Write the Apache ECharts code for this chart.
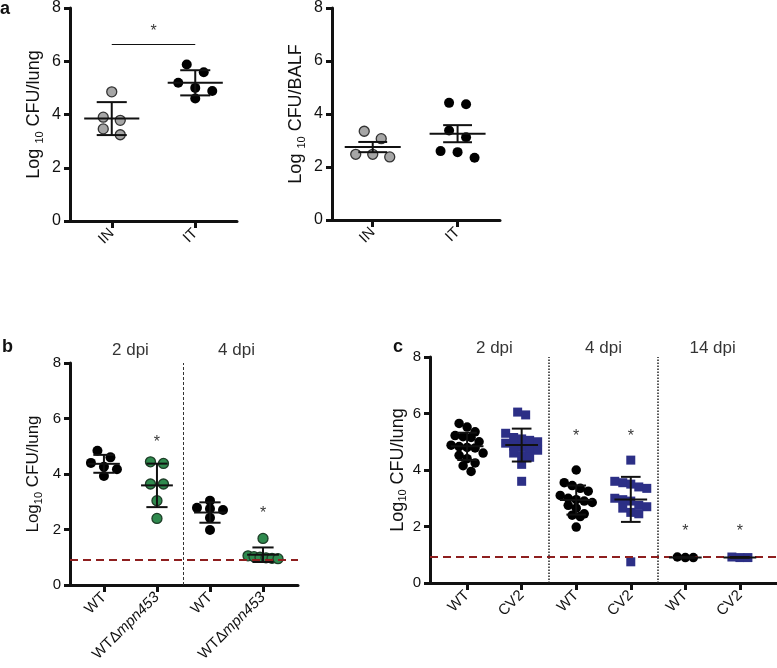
<!DOCTYPE html>
<html><head><meta charset="utf-8">
<script src="https://cdn.jsdelivr.net/npm/echarts@6/dist/echarts.min.js"></script>
<style>html,body{margin:0;padding:0;background:#fff}#c{width:777px;height:668px}</style>
</head><body><div id="c"></div>
<script>
// ---------- data ----------
const aCats = ['IN', 'IT'];
const aLungIN = [4.85, 3.90, 3.78, 3.46, 3.24];
const aLungIT = [5.88, 5.59, 5.19, 5.00, 4.88, 4.60];
const aLungStar = [[0.5, 7.1]];
const aLungBracket = [0, 1, 6.65];
const aBalfIN = [3.35, 3.07, 2.48, 2.48, 2.38];
const aBalfIT = [4.42, 4.37, 3.38, 3.12, 2.60, 2.56, 2.35];

const bCats = ['WT', 'WTΔmpn453', 'WT', 'WTΔmpn453'];
const bHeaders = ['2 dpi', '4 dpi'];
const bWT2 = [4.84, 4.60, 4.40, 4.26, 4.17, 3.93];
const bMut2 = [4.44, 4.38, 3.64, 3.64, 3.04, 2.40];
const bWT4 = [3.04, 2.78, 2.75, 2.70, 2.42, 1.98];
const bMut4 = [1.68, 1.05, 1.02, 1.00, 0.98, 0.96, 0.95];
const bStars = [[1, 5.13], [3, 2.58]];

const cCats = ['WT', 'CV2', 'WT', 'CV2', 'WT', 'CV2'];
const cHeaders = ['2 dpi', '4 dpi', '14 dpi'];
const cWT2 = [5.65, 5.52, 5.35, 5.22, 5.18, 5.15, 5.00, 4.88, 4.83, 4.80, 4.78, 4.60, 4.52, 4.40, 4.25, 4.15, 3.95];
const cCV2_2 = [6.05, 5.95, 5.30, 5.15, 5.10, 5.05, 5.00, 4.95, 4.85, 4.80, 4.75, 4.70, 4.60, 4.50, 4.45, 4.20, 3.60];
const cWT4 = [4.00, 3.55, 3.45, 3.35, 3.25, 3.10, 3.00, 2.95, 2.90, 2.85, 2.75, 2.65, 2.45, 2.40, 2.35, 1.98];
const cCV2_4 = [4.35, 3.60, 3.55, 3.50, 3.40, 3.35, 3.00, 2.95, 2.90, 2.75, 2.70, 2.65, 2.50, 2.45, 0.75];
const cWT14 = [0.92, 0.90, 0.90];
const cCV2_14 = [0.92, 0.90, 0.90];
const cStars = [[2, 5.18], [3, 5.18], [4, 1.83], [5, 1.83]];

const limitOfDetection = 0.92;
const yMin = 0, yMax = 8, yStep = 2;

// ---------- layout / style ----------
const FONT = '"Liberation Sans", Arial, Helvetica, sans-serif';
const INK = '#111';
const GRAY = '#a6a6a6', BLACK = '#000', GREEN = '#2f8a4e', BLUE = '#2c2f86', RED = '#8e1f1f';

const panels = [
  { grid: {left: 70, top: 5, width: 167, height: 216}, xr: [-0.5, 1.5], cats: aCats, yFont: 16, xFont: 15,
    name: '{n|Log }{s|10}{n| CFU/lung}', nameFont: 18, nameGap: 25, dPx: 9, sPx: 17, maxW: 36, mw: 0.33, cw: 0.18, sem: false },
  { grid: {left: 332, top: 5, width: 168, height: 215}, xr: [-0.48, 1.5], cats: aCats, yFont: 16, xFont: 15,
    name: '{n|Log }{s|10}{n| CFU/BALF}', nameFont: 18, nameGap: 25, dPx: 9, sPx: 17, maxW: 36, mw: 0.33, cw: 0.17, sem: true },
  { grid: {left: 70, top: 363, width: 228, height: 222}, xr: [-0.64, 3.66], cats: bCats, yFont: 15, xFont: 15,
    name: '{n|Log}{s|10}{n| CFU/lung}', nameFont: 17, nameGap: 26, dPx: 7, sPx: 13, maxW: 30, mw: 0.3, cw: 0.2, sem: false },
  { grid: {left: 430, top: 357, width: 347, height: 226}, xr: [-0.68, 5.68], cats: cCats, yFont: 15, xFont: 15,
    name: '{n|Log}{s|10}{n| CFU/lung}', nameFont: 18, nameGap: 21, dPx: 9, sPx: 8, maxW: 34, mw: 0.3, cw: 0.18, sem: false }
];

const groups = [
  {p: 0, x: 0, v: aLungIN, color: GRAY, border: '#333', sym: 'circle', size: 10},
  {p: 0, x: 1, v: aLungIT, color: BLACK, border: BLACK, sym: 'circle', size: 10},
  {p: 1, x: 0, v: aBalfIN, color: GRAY, border: '#333', sym: 'circle', size: 10},
  {p: 1, x: 1, v: aBalfIT, color: BLACK, border: BLACK, sym: 'circle', size: 10},
  {p: 2, x: 0, v: bWT2, color: BLACK, border: BLACK, sym: 'circle', size: 10},
  {p: 2, x: 1, v: bMut2, color: GREEN, border: '#1d3d27', sym: 'circle', size: 10},
  {p: 2, x: 2, v: bWT4, color: BLACK, border: BLACK, sym: 'circle', size: 10},
  {p: 2, x: 3, v: bMut4, color: GREEN, border: '#1d3d27', sym: 'circle', size: 10},
  {p: 3, x: 0, v: cWT2, color: BLACK, border: BLACK, sym: 'circle', size: 9.5},
  {p: 3, x: 1, v: cCV2_2, color: BLUE, border: BLUE, sym: 'rect', size: 9},
  {p: 3, x: 2, v: cWT4, color: BLACK, border: BLACK, sym: 'circle', size: 9.5},
  {p: 3, x: 3, v: cCV2_4, color: BLUE, border: BLUE, sym: 'rect', size: 9},
  {p: 3, x: 4, v: cWT14, color: BLACK, border: BLACK, sym: 'circle', size: 9.5},
  {p: 3, x: 5, v: cCV2_14, color: BLUE, border: BLUE, sym: 'rect', size: 9}
];

function stats(v, sem) {
  const n = v.length;
  const m = v.reduce((a, b) => a + b, 0) / n;
  const sd = Math.sqrt(v.reduce((a, b) => a + (b - m) * (b - m), 0) / (n - 1));
  const e = sem ? sd / Math.sqrt(n) : sd;
  return [m, m - e, m + e];
}

// GraphPad-like horizontal spreading of overlapping points (computed, not typed)
function swarm(vals, xc, P) {
  const ypx = P.grid.height / (yMax - yMin);
  const xpx = P.grid.width / (P.xr[1] - P.xr[0]);
  const s = vals.slice().sort((a, b) => b - a);
  const gs = []; let cur = [];
  s.forEach(v => {
    if (cur.length && (cur[0] - v) * ypx < P.dPx) cur.push(v);
    else { if (cur.length) gs.push(cur); cur = [v]; }
  });
  if (cur.length) gs.push(cur);
  const out = [];
  gs.forEach(g => {
    const n = g.length;
    const step = n > 1 ? Math.min(P.sPx, P.maxW / (n - 1)) : 0;
    g.forEach((v, i) => out.push([xc + (i - (n - 1) / 2) * step / xpx, v]));
  });
  return out;
}

const grids = [], xAxes = [], yAxes = [], series = [];

panels.forEach((P, i) => {
  grids.push(Object.assign({containLabel: false}, P.grid));
  const idx = P.cats.map((c, k) => k);
  xAxes.push({
    gridIndex: i, type: 'value', min: P.xr[0], max: P.xr[1],
    axisLine: {show: true, onZero: false, lineStyle: {color: INK, width: 3}},
    axisTick: {show: true, customValues: idx, length: 7, lineStyle: {color: INK, width: 3}},
    axisLabel: {
      show: true, customValues: idx, rotate: 45, margin: 10, color: INK, fontSize: P.xFont, fontFamily: FONT,
      formatter: v => {
        const t = P.cats[Math.round(v)];
        const k = t.indexOf('Δ');
        return k >= 0 ? '{r|' + t.slice(0, k + 1) + '}{it|' + t.slice(k + 1) + '}' : t;
      },
      rich: {r: {fontSize: P.xFont, fontFamily: FONT, color: INK}, it: {fontSize: P.xFont, fontFamily: FONT, fontStyle: 'italic', color: INK}}
    },
    splitLine: {show: false}
  });
  yAxes.push({
    gridIndex: i, type: 'value', min: yMin, max: yMax, interval: yStep,
    axisLine: {show: true, onZero: false, lineStyle: {color: INK, width: 3}},
    axisTick: {show: true, length: 6, lineStyle: {color: INK, width: 3}},
    axisLabel: {color: INK, fontSize: P.yFont, fontFamily: FONT, margin: 9},
    splitLine: {show: false},
    name: P.name, nameLocation: 'middle', nameRotate: 90, nameGap: P.nameGap,
    nameTextStyle: {
      rich: {
        n: {fontSize: P.nameFont, fontFamily: FONT, color: INK, lineHeight: P.nameFont + 4},
        s: {fontSize: Math.round(P.nameFont * 0.62), fontFamily: FONT, color: INK, verticalAlign: 'bottom', lineHeight: P.nameFont + 4}
      }
    }
  });
});

// points
groups.forEach(G => {
  const P = panels[G.p];
  series.push({
    type: 'scatter', xAxisIndex: G.p, yAxisIndex: G.p, z: 2,
    symbol: G.sym, symbolSize: G.size,
    itemStyle: {color: G.color, borderColor: G.border, borderWidth: G.color === G.border ? 0 : 1.3, opacity: 1},
    data: swarm(G.v, G.x, P)
  });
});

// mean +/- error bars
panels.forEach((P, i) => {
  const data = groups.filter(G => G.p === i).map(G => [G.x].concat(stats(G.v, P.sem)));
  series.push({
    type: 'custom', xAxisIndex: i, yAxisIndex: i, z: 5, clip: false,
    data: data,
    renderItem: (params, api) => {
      const x = api.value(0), m = api.value(1), lo = api.value(2), hi = api.value(3);
      const c = api.coord([x, m]), l = api.coord([x, lo]), h = api.coord([x, hi]);
      const wm = api.size([P.mw, 0])[0], wc = api.size([P.cw, 0])[0];
      const st = {stroke: INK, lineWidth: 2};
      return {type: 'group', children: [
        {type: 'line', shape: {x1: c[0] - wm, y1: c[1], x2: c[0] + wm, y2: c[1]}, style: st},
        {type: 'line', shape: {x1: c[0], y1: l[1], x2: c[0], y2: h[1]}, style: st},
        {type: 'line', shape: {x1: c[0] - wc, y1: h[1], x2: c[0] + wc, y2: h[1]}, style: st},
        {type: 'line', shape: {x1: c[0] - wc, y1: l[1], x2: c[0] + wc, y2: l[1]}, style: st}
      ]};
    }
  });
});

// helper: text-only scatter (annotations placed in data coordinates)
function textSeries(i, data, size, z) {
  return {
    type: 'scatter', xAxisIndex: i, yAxisIndex: i, z: z || 6, clip: false, silent: true,
    symbolSize: 1, itemStyle: {color: '#fff'},
    label: {show: true, position: 'inside', formatter: p => p.data[2], color: '#000',
      textBorderWidth: 0, textBorderColor: 'transparent', fontSize: size, fontFamily: FONT},
    emphasis: {disabled: true},
    data: data
  };
}

// panel a significance
series.push(Object.assign(textSeries(0, aLungStar.map(d => [d[0], d[1], '*']), 16), {
  markLine: {silent: true, symbol: ['none', 'none'], label: {show: false},
    lineStyle: {color: INK, width: 1, type: 'solid'},
    data: [[{coord: [aLungBracket[0], aLungBracket[2]]}, {coord: [aLungBracket[1], aLungBracket[2]]}]]}
}));

// panel b stars + headers + dividers + LOD
series.push(Object.assign(textSeries(2, bStars.map(d => [d[0], d[1], '*']), 16), {
  markLine: {silent: true, symbol: ['none', 'none'], label: {show: false},
    data: [
      {xAxis: 1.5, lineStyle: {color: '#333', width: 1, type: [3, 2]}},
      {yAxis: limitOfDetection, lineStyle: {color: RED, width: 2, type: [8, 5]}}
    ]}
}));
series.push(textSeries(2, bHeaders.map((h, k) => [0.5 + 2 * k, 8.47, h]), 17));

// panel c
series.push(Object.assign(textSeries(3, cStars.map(d => [d[0], d[1], '*']), 16), {
  markLine: {silent: true, symbol: ['none', 'none'], label: {show: false},
    data: [
      {xAxis: 1.5, lineStyle: {color: '#222', width: 1.5, type: [1.5, 1.5]}},
      {xAxis: 3.5, lineStyle: {color: '#222', width: 1.5, type: [1.5, 1.5]}},
      {yAxis: limitOfDetection, lineStyle: {color: RED, width: 2, type: [8, 5]}}
    ]}
}));
series.push(textSeries(3, cHeaders.map((h, k) => [0.5 + 2 * k, 8.3, h]), 17));

const chart = echarts.init(document.getElementById('c'), null, {renderer: 'canvas'});
chart.setOption({
  animation: false,
  backgroundColor: '#fff',
  textStyle: {fontFamily: FONT},
  title: [
    {text: 'a', left: 0, top: 0, padding: 0, textStyle: {fontSize: 18, fontWeight: 'bold', color: INK, fontFamily: FONT}},
    {text: 'b', left: 2, top: 338, padding: 0, textStyle: {fontSize: 18, fontWeight: 'bold', color: INK, fontFamily: FONT}},
    {text: 'c', left: 393, top: 338, padding: 0, textStyle: {fontSize: 18, fontWeight: 'bold', color: INK, fontFamily: FONT}}
  ],
  grid: grids, xAxis: xAxes, yAxis: yAxes, series: series
});
</script>
</body></html>
